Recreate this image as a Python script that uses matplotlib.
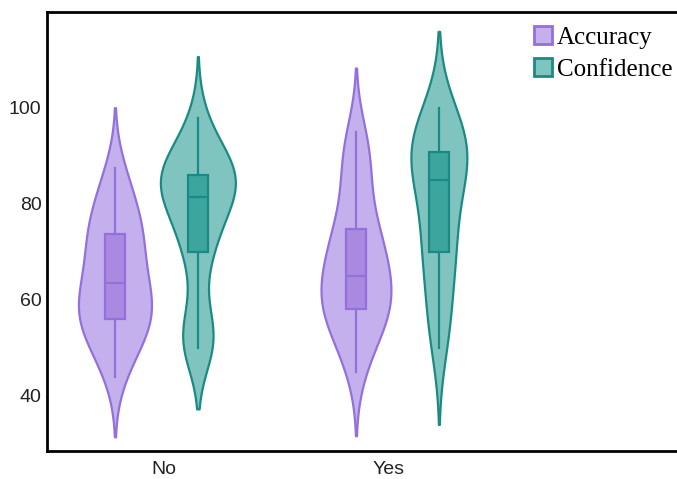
import numpy as np
import matplotlib
matplotlib.use('Agg')
import matplotlib.pyplot as plt
from matplotlib.patches import Patch

# sample scores (box stats + violin shape)
groups = ['No', 'Yes']
series = ['Accuracy', 'Confidence']
acc_no = [44, 47, 49, 51, 53, 54, 55, 56, 56, 57, 58, 59, 60, 61, 63,
          64, 65, 66, 68, 70, 72, 73, 74, 75, 76, 78, 80, 82, 85, 87.5]
conf_no = [50, 50, 51, 52, 53, 55, 62, 70, 70, 72, 74, 76, 78, 80, 81,
           82, 83, 84, 84, 85, 85, 86, 86, 87, 88, 89, 90, 92, 95, 98]
acc_yes = [45, 48, 51, 53, 55, 56, 57, 58, 58, 59, 61, 62, 63, 64, 65,
           65, 67, 69, 71, 72, 73, 74, 75, 79, 82, 85, 88, 90, 93, 95]
conf_yes = [50, 52, 55, 58, 61, 64, 67, 70, 70, 72, 74, 76, 78, 81, 84,
            86, 87, 88, 89, 89, 90, 90, 91, 92, 94, 95, 96, 97, 99, 100]

fill = {'Accuracy': '#c4b0ec', 'Confidence': '#80c4bf'}
edge = {'Accuracy': '#9370db', 'Confidence': '#1b8a84'}
boxfill = {'Accuracy': '#a98ae0', 'Confidence': '#3ca59d'}


def kde_stats(x):
    x = np.asarray(x, float)
    n = len(x)
    q1, q3 = np.percentile(x, [25, 75])
    bw = 1.059 * min(x.std(ddof=1), (q3 - q1) / 1.349) * n ** -0.2
    coords = np.linspace(x.min() - 2 * bw, x.max() + 2 * bw, 300)
    vals = np.exp(-0.5 * ((coords[:, None] - x[None, :]) / bw) ** 2).sum(1)
    vals /= n * bw * np.sqrt(2 * np.pi)
    return dict(coords=coords, vals=vals, mean=x.mean(), median=np.median(x),
                min=x.min(), max=x.max())


data = {('No', 'Accuracy'): acc_no, ('No', 'Confidence'): conf_no,
        ('Yes', 'Accuracy'): acc_yes, ('Yes', 'Confidence'): conf_yes}
offset = {'Accuracy': -0.172, 'Confidence': 0.172}
# violin widths (x units) as drawn in the reference
vwidth = {('No', 'Accuracy'): 0.303, ('No', 'Confidence'): 0.311,
          ('Yes', 'Accuracy'): 0.290, ('Yes', 'Confidence'): 0.232}

fig = plt.figure(figsize=(6.77, 4.79), dpi=100)
ax = fig.add_axes([47 / 677, 28 / 479, 1 - 47 / 677, (451 - 12) / 479])

for gi, g in enumerate(groups):
    for s in series:
        st = kde_stats(data[(g, s)])
        pos = gi + offset[s]
        parts = ax.violin([st], positions=[pos], widths=[vwidth[(g, s)]],
                          showmeans=False, showextrema=False, showmedians=False)
        for body in parts['bodies']:
            body.set_facecolor(fill[s])
            body.set_edgecolor(edge[s])
            body.set_alpha(1)
            body.set_linewidth(1.6)
            body.set_zorder(2)
        ax.boxplot([data[(g, s)]], positions=[pos], widths=0.083,
                   patch_artist=True, showcaps=False, showfliers=False,
                   boxprops=dict(facecolor=boxfill[s], edgecolor=edge[s], linewidth=1.6),
                   whiskerprops=dict(color=edge[s], linewidth=1.6),
                   medianprops=dict(color=edge[s], linewidth=1.6),
                   zorder=3, manage_ticks=False)

ax.set_xlim(-0.454, 2.16)
ax.set_ylim(28.5, 120)
ax.set_yticks([40, 60, 80, 100])
ax.set_xticks([0.03, 0.965])
ax.set_xticklabels(groups)
ax.tick_params(axis='y', length=0, labelsize=14, pad=4)
ax.tick_params(axis='x', length=0, labelsize=14, pad=7)
for lab in ax.get_xticklabels() + ax.get_yticklabels():
    lab.set_fontfamily('Liberation Sans')
    lab.set_color('#222222')
ax.spines['right'].set_visible(False)
for sp in ['left', 'top', 'bottom']:
    ax.spines[sp].set_linewidth(2)

handles = [Patch(facecolor=fill[s], edgecolor=edge[s], linewidth=2) for s in series]
fig.legend(handles, series, loc='upper left', bbox_to_anchor=(534 / 677, 1 - 26 / 479),
           frameon=False, prop=dict(family='Liberation Serif', size=18),
           handlelength=0.72, handleheight=0.72, handletextpad=0.2,
           labelspacing=0.38, borderpad=0, borderaxespad=0)

fig.savefig('out.png', dpi=100)
